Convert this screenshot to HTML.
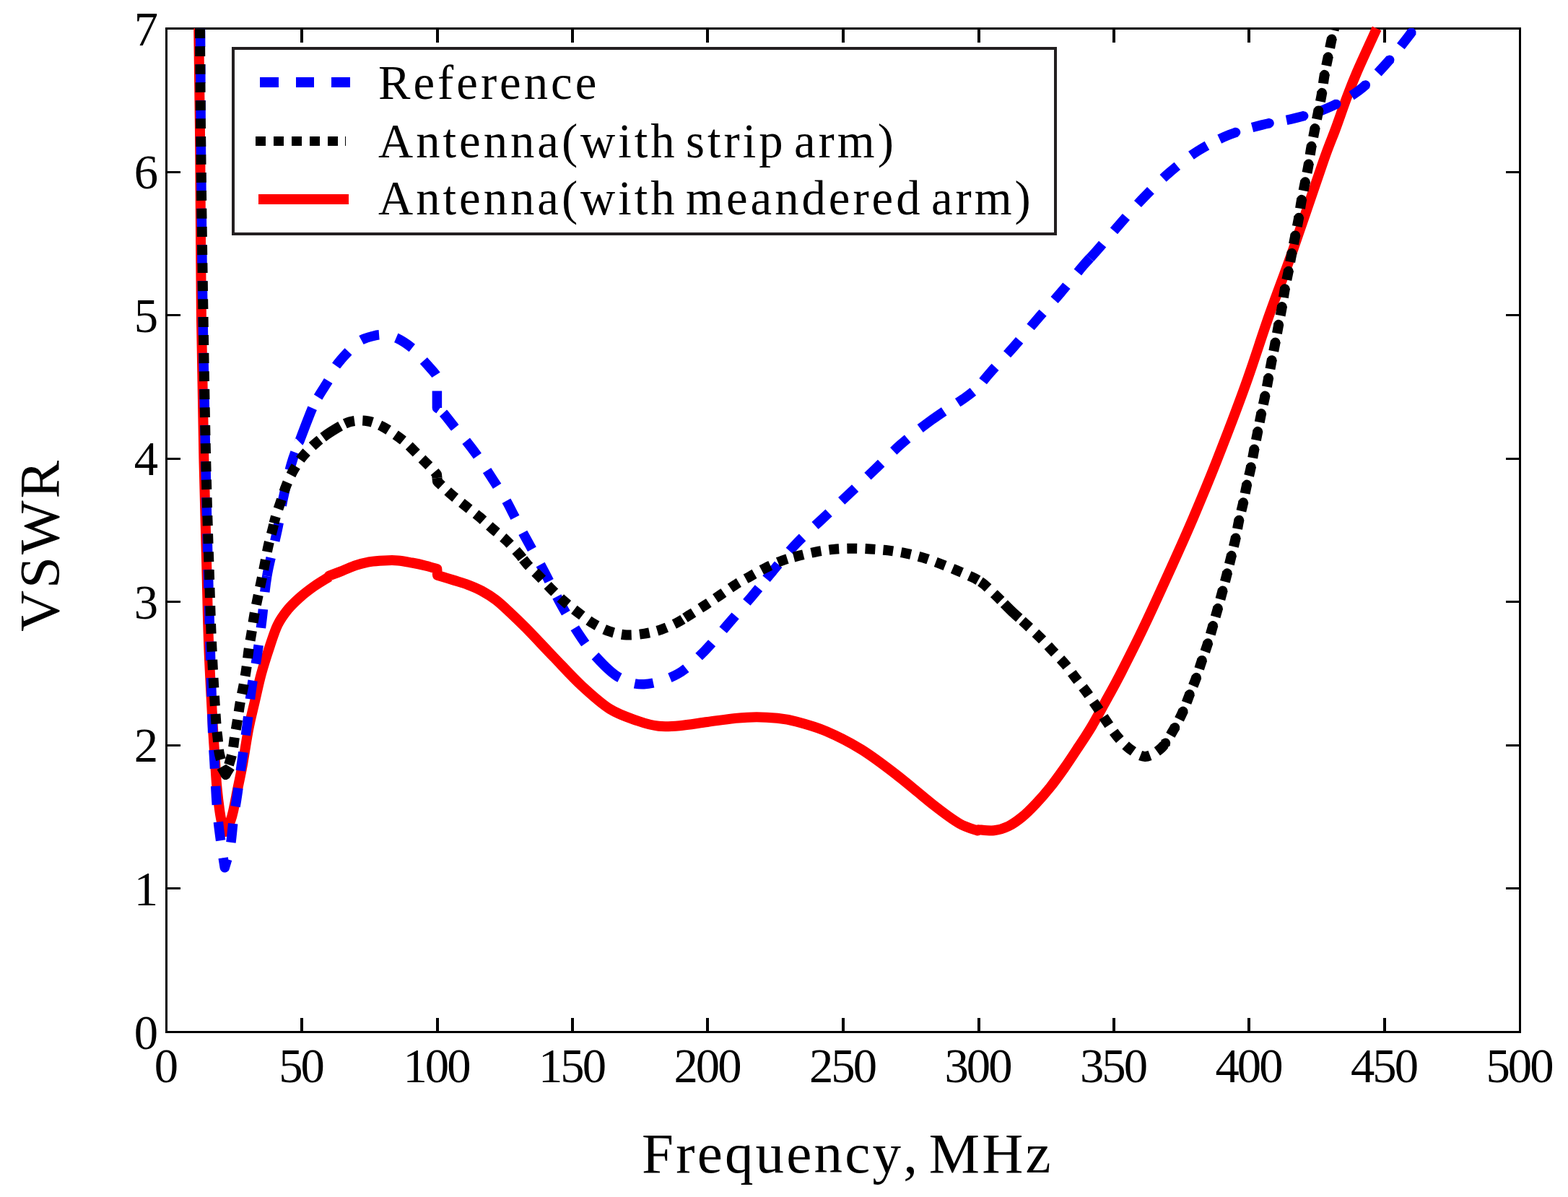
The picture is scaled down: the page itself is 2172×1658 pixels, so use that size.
<!DOCTYPE html>
<html lang="en"><head><meta charset="utf-8"><title>VSWR vs Frequency</title>
<style>
html,body{margin:0;padding:0;background:#fff;}
body{width:2172px;height:1658px;overflow:hidden;}
svg{display:block;}
text{font-family:"Liberation Serif","Times New Roman",Times,serif;fill:#000;font-kerning:none;font-variant-ligatures:none;white-space:pre;}
.tick{font-size:66.7px;}
.leg{font-size:66.7px;}
.lab{font-size:79px;}
</style></head><body>
<svg xmlns="http://www.w3.org/2000/svg" width="2172" height="1658" viewBox="0 0 2172 1658">
<rect x="0" y="0" width="2172" height="1658" fill="#fff"/>
<defs>
<clipPath id="ax"><rect x="231" y="38.9" width="1874" height="1390"/></clipPath>
</defs>
<g fill="#000" shape-rendering="crispEdges">
<rect x="229" y="38" width="1878" height="3"/>
<rect x="229" y="1428" width="1878" height="3"/>
<rect x="229" y="38" width="3" height="1393"/>
<rect x="2104" y="38" width="3" height="1393"/>
<rect x="416" y="1410" width="4" height="19"/>
<rect x="416" y="40" width="4" height="19"/>
<rect x="604" y="1410" width="4" height="19"/>
<rect x="604" y="40" width="4" height="19"/>
<rect x="791" y="1410" width="4" height="19"/>
<rect x="791" y="40" width="4" height="19"/>
<rect x="978" y="1410" width="4" height="19"/>
<rect x="978" y="40" width="4" height="19"/>
<rect x="1166" y="1410" width="4" height="19"/>
<rect x="1166" y="40" width="4" height="19"/>
<rect x="1354" y="1410" width="4" height="19"/>
<rect x="1354" y="40" width="4" height="19"/>
<rect x="1541" y="1410" width="4" height="19"/>
<rect x="1541" y="40" width="4" height="19"/>
<rect x="1728" y="1410" width="4" height="19"/>
<rect x="1728" y="40" width="4" height="19"/>
<rect x="1916" y="1410" width="4" height="19"/>
<rect x="1916" y="40" width="4" height="19"/>
<rect x="231" y="1229" width="19" height="3"/>
<rect x="2086" y="1229" width="19" height="3"/>
<rect x="231" y="1031" width="19" height="3"/>
<rect x="2086" y="1031" width="19" height="3"/>
<rect x="231" y="832" width="19" height="3"/>
<rect x="2086" y="832" width="19" height="3"/>
<rect x="231" y="634" width="19" height="3"/>
<rect x="2086" y="634" width="19" height="3"/>
<rect x="231" y="435" width="19" height="3"/>
<rect x="2086" y="435" width="19" height="3"/>
<rect x="231" y="237" width="19" height="3"/>
<rect x="2086" y="237" width="19" height="3"/>
</g>
<g fill="none" stroke-linejoin="round" stroke-linecap="butt">
<path d="M275.2 39.1C275.6 68.4 276.7 148.9 277.3 215.0C277.9 281.1 278.0 365.8 278.9 436.0C279.8 506.2 281.1 577.0 282.4 636.0C283.6 695.0 285.2 746.5 286.4 790.0C287.5 833.5 287.9 862.0 289.3 897.0C290.7 932.0 293.1 974.2 294.5 1000.0C295.9 1025.8 296.8 1036.6 297.8 1051.6C298.8 1066.6 299.3 1078.4 300.4 1090.2C301.5 1102.0 303.0 1114.1 304.2 1122.5C305.4 1130.9 306.2 1135.6 307.5 1140.5C308.8 1145.4 311.3 1150.1 312.1 1152.0C313.3 1149.5 317.5 1141.6 319.4 1136.7C321.3 1131.8 321.6 1130.2 323.3 1122.5C325.0 1114.8 327.6 1100.6 329.7 1090.2C331.8 1079.8 333.4 1073.3 335.8 1060.1C338.2 1046.8 341.3 1025.4 344.1 1010.7C346.9 996.0 349.8 985.0 352.8 972.1C355.8 959.2 358.4 946.3 361.9 933.4C365.4 920.5 370.1 906.0 373.9 894.7C377.7 883.4 380.4 874.1 384.5 865.7C388.6 857.3 393.4 850.9 398.6 844.4C403.9 837.9 409.9 832.4 416.0 827.0C422.1 821.6 428.9 816.5 435.4 811.9C441.9 807.3 451.7 801.6 455.0 799.5L456.0 797.5C459.0 796.4 467.8 793.1 474.0 790.7C480.2 788.3 486.9 785.0 493.4 782.9C499.8 780.8 506.3 779.2 512.7 778.1C519.2 777.0 525.7 776.7 532.1 776.4C538.5 776.1 545.0 775.9 551.4 776.4C557.8 776.9 564.2 778.3 570.7 779.5C577.2 780.7 584.3 782.3 590.1 783.7C595.9 785.1 602.8 787.3 605.3 788.0L606.0 796.7C609.8 797.9 621.8 801.6 628.8 803.8C635.8 806.0 641.7 807.5 648.1 810.0C654.5 812.5 661.0 815.0 667.4 818.5C673.8 822.0 680.3 826.0 686.8 830.9C693.2 835.8 699.1 841.5 706.1 848.0C713.1 854.5 718.5 859.5 728.7 869.9C738.9 880.3 754.5 897.1 767.4 910.5C780.3 923.9 793.1 938.2 806.0 950.1C818.9 962.0 831.8 973.9 844.7 982.0C857.6 990.1 872.1 994.5 883.4 998.5C894.7 1002.5 902.7 1004.7 912.4 1005.8C922.1 1006.9 930.1 1006.2 941.4 1005.2C952.7 1004.2 967.2 1001.7 980.1 1000.0C993.0 998.3 1007.5 996.0 1018.8 994.9C1030.1 993.8 1038.4 993.2 1048.1 993.2C1057.8 993.2 1067.6 993.8 1076.8 994.8C1086.0 995.8 1091.6 996.5 1103.0 999.5C1114.4 1002.5 1129.9 1006.6 1145.0 1013.1C1160.1 1019.6 1177.3 1028.3 1193.4 1038.3C1209.5 1048.3 1224.8 1060.1 1241.7 1073.1C1258.6 1086.1 1280.5 1105.2 1295.0 1116.5C1309.5 1127.8 1319.2 1135.0 1329.0 1140.7C1338.8 1146.4 1349.8 1148.9 1354.0 1150.5L1355.0 1149.2C1358.7 1149.4 1370.2 1151.1 1377.2 1150.3C1384.2 1149.5 1390.2 1147.6 1396.7 1144.5C1403.2 1141.4 1409.5 1136.8 1416.0 1131.5C1422.5 1126.2 1429.0 1119.5 1435.4 1112.7C1441.9 1105.9 1448.3 1098.5 1454.7 1090.5C1461.1 1082.5 1467.5 1073.6 1474.0 1064.4C1480.5 1055.2 1487.0 1045.2 1493.4 1035.4C1499.9 1025.6 1505.9 1017.0 1512.7 1005.4C1519.5 993.8 1528.0 977.8 1534.5 966.0C1541.0 954.2 1543.4 950.4 1551.4 934.8C1559.4 919.1 1571.5 895.5 1582.7 872.1C1593.9 848.8 1606.8 820.5 1618.5 794.7C1630.2 768.9 1641.8 743.2 1652.8 717.4C1663.8 691.6 1672.6 670.7 1684.7 640.0C1696.8 609.3 1713.0 567.3 1725.2 533.4C1737.4 499.5 1747.0 468.1 1758.1 436.7C1769.1 405.3 1779.0 380.6 1791.5 345.0C1804.0 309.4 1823.4 250.9 1833.1 223.4C1842.8 195.9 1844.0 194.9 1849.5 180.0C1855.0 165.1 1860.9 147.5 1866.0 134.0C1871.1 120.5 1873.2 114.8 1880.0 99.0C1886.8 83.2 1902.6 49.3 1907.1 39.4" stroke="#ff0000" stroke-width="14"/>
</g>
<g fill="none" stroke="#0000ff" stroke-width="13.5" stroke-linejoin="round" clip-path="url(#ax)">
<path d="M277.5 39.0C277.7 68.3 277.9 148.8 278.5 215.0C279.1 281.2 279.9 365.8 281.0 436.0C282.1 506.2 283.6 577.0 284.8 636.0C286.0 695.0 287.2 746.0 288.3 790.0C289.4 834.0 290.3 863.4 291.3 900.0C292.3 936.6 293.6 983.9 294.5 1009.7C295.4 1035.5 296.1 1039.0 297.0 1054.8C297.9 1070.6 298.7 1090.8 299.6 1104.4C300.5 1118.1 301.1 1126.2 302.2 1136.7C303.3 1147.2 304.6 1156.8 306.1 1167.6C307.6 1178.4 310.4 1196.1 311.3 1201.8C312.6 1197.0 317.0 1184.0 319.0 1172.7C321.0 1161.4 321.9 1146.0 323.5 1134.1C325.1 1122.2 326.6 1115.0 328.6 1101.2C330.6 1087.4 333.3 1067.0 335.6 1051.0C337.9 1035.0 340.1 1020.9 342.2 1004.9C344.3 988.9 346.0 970.8 348.3 954.7C350.6 938.6 353.7 924.3 356.1 908.2C358.5 892.1 360.6 876.4 362.9 858.0C365.2 839.6 366.3 818.5 369.8 798.0" stroke-dasharray="26 24" stroke-dashoffset="0.0"/>
<path d="M369.8 798.0C373.3 777.5 380.3 752.8 384.0 735.0C387.7 717.2 388.8 706.9 392.0 691.5C395.2 676.1 399.7 656.2 403.5 642.9C407.2 629.7 409.7 624.8 414.5 612.0" stroke-dasharray="26 24" stroke-dashoffset="0.0"/>
<path d="M414.5 612.0C414.6 611.9 414.6 611.9 414.6 611.8C419.5 598.8 428.1 575.8 432.7 565.2"/>
<path d="M432.7 565.2C437.2 554.6 437.9 554.7 441.9 548.0C445.8 541.3 452.5 531.6 456.4 524.8C460.3 518.0 460.9 513.5 465.1 507.4C469.3 501.3 476.0 493.8 481.5 488.0C487.0 482.2 492.4 476.2 498.0 472.5C503.6 468.8 510.1 467.2 515.4 465.8C520.7 464.4 524.1 463.3 529.9 463.8C535.7 464.3 543.0 465.3 550.2 468.7C557.5 472.1 567.3 479.0 573.4 484.1C579.5 489.2 582.0 494.0 586.9 499.6C591.8 505.2 599.9 513.9 603.0 518.0C606.1 522.1 605.0 523.0 605.4 524.0L605.4 527.1" stroke-dasharray="26 24" stroke-dashoffset="32.7"/>
<path d="M605.4 527.1L605.4 565.0C606.5 565.9 608.7 567.1 611.6 569.7" stroke-dasharray="27 24" stroke-dashoffset="36.5"/>
<path d="M611.6 569.7C612.4 570.4 613.2 571.2 614.0 572.1C618.0 576.5 624.4 585.2 629.5 591.5C634.6 597.8 639.8 603.3 644.9 609.8C650.0 616.2 655.6 623.4 660.4 630.2C665.2 637.0 669.4 643.6 673.9 650.5C678.4 657.4 683.0 664.6 687.5 671.7C692.0 678.8 696.8 685.8 701.0 693.0C705.2 700.2 708.3 706.9 712.6 715.2C716.9 723.5 720.1 730.1 727.0 742.8C733.9 755.5 745.5 775.9 753.8 791.6C762.1 807.3 768.9 822.4 777.0 837.0C785.1 851.6 794.5 867.4 802.6 879.5C810.4 891.2 816.0 899.2 824.5 908.5" stroke-dasharray="26 24" stroke-dashoffset="46.6"/>
<path d="M824.5 908.5C824.8 908.8 825.1 909.2 825.4 909.5C834.3 919.2 845.2 931.2 856.3 937.6C857.0 938.0 857.7 938.4 858.5 938.8"/>
<path d="M858.5 938.8C868.9 944.5 879.3 948.4 892.1 947.8C905.8 947.1 924.5 941.4 938.5 933.7C952.5 926.0 964.6 912.9 976.2 901.4C987.8 889.9 997.4 877.4 1008.1 865.0C1018.8 852.6 1030.1 839.5 1040.4 827.3C1045.5 821.2 1050.3 815.5 1055.0 809.7" stroke-dasharray="26 24" stroke-dashoffset="27.7"/>
<path d="M1055.0 809.7C1059.9 803.8 1064.8 797.8 1070.0 791.6C1080.4 779.3 1091.3 765.3 1102.7 753.3C1114.1 741.3 1126.2 730.9 1138.3 719.5C1150.4 708.1 1163.0 696.5 1175.1 685.1C1187.2 673.7 1198.8 662.8 1210.9 651.2C1223.1 639.6 1234.7 627.0 1248.0 615.4C1256.5 608.0 1265.5 600.7 1274.7 593.5" stroke-dasharray="26 24" stroke-dashoffset="39.6"/>
<path d="M1274.7 593.5C1280.1 589.4 1285.5 585.4 1290.9 581.4C1296.0 577.7 1301.9 573.7 1307.7 569.8"/>
<path d="M1307.7 569.8C1318.9 562.5 1330.2 555.4 1337.3 550.4C1348.1 542.8 1352.5 538.4 1355.5 536.0" stroke-dasharray="26 24" stroke-dashoffset="27.6"/>
<path d="M1355.5 536.0C1358.1 532.8 1363.1 525.8 1371.2 516.6C1379.3 507.4 1393.2 493.1 1404.0 480.8C1414.8 468.6 1425.2 455.6 1436.0 443.1C1446.8 430.6 1458.0 418.6 1468.8 406.0C1479.6 393.4 1492.3 377.5 1500.7 367.7C1504.9 362.8 1507.4 360.1 1509.9 357.5" stroke-dasharray="26 24" stroke-dashoffset="40.0"/>
<path d="M1509.9 357.5C1512.4 354.8 1514.9 352.2 1519.1 347.4C1527.5 337.9 1540.2 322.9 1551.0 310.6C1561.8 298.3 1572.7 285.6 1584.2 273.7C1595.7 261.8 1607.4 249.7 1620.0 238.9C1632.6 228.1 1645.8 217.6 1659.6 208.9C1666.2 204.8 1673.0 200.9 1679.9 197.3" stroke-dasharray="26 24" stroke-dashoffset="0.0"/>
<path d="M1679.9 197.3C1687.6 193.3 1695.4 189.7 1703.1 186.6C1717.8 180.6 1732.3 177.0 1747.6 173.1C1762.9 169.2 1779.8 167.3 1795.0 163.4C1810.2 159.5 1824.0 156.2 1838.5 149.9C1853.0 143.6 1868.6 135.7 1882.0 125.7C1895.4 115.7 1907.4 102.2 1918.7 89.9C1930.0 77.7 1943.1 60.6 1949.7 52.2C1956.3 43.8 1954.2 45.7 1958.4 39.5C1962.6 33.3 1972.2 19.1 1975.0 15.0" stroke-dasharray="26 22.4" stroke-dashoffset="38.1"/>
</g>
<g fill="none" stroke="#0000ff" stroke-width="12.9" stroke-linecap="round" clip-path="url(#ax)">
<path d="M1679.9 197.3C1687.6 193.3 1695.4 189.7 1703.1 186.6C1717.8 180.6 1732.3 177.0 1747.6 173.1C1762.9 169.2 1779.8 167.3 1795.0 163.4C1810.2 159.5 1824.0 156.2 1838.5 149.9C1853.0 143.6 1868.6 135.7 1882.0 125.7C1895.4 115.7 1907.4 102.2 1918.7 89.9C1930.0 77.7 1943.1 60.6 1949.7 52.2C1956.3 43.8 1954.2 45.7 1958.4 39.5C1962.6 33.3 1972.2 19.1 1975.0 15.0" stroke-dasharray="0.01 48.39" stroke-dashoffset="13.6"/>
</g>
<g fill="none" stroke="#000000" stroke-width="14" stroke-linejoin="round" clip-path="url(#ax)">
<path d="M277.0 39.2C277.2 68.5 277.6 148.9 278.4 215.0C279.1 281.1 280.4 365.8 281.5 436.0C282.6 506.2 283.8 577.0 285.2 636.0C286.6 695.0 288.3 746.5 289.7 790.0C291.1 833.5 291.8 862.7 293.4 897.0C294.9 931.3 297.6 975.2 299.0 996.0C300.4 1016.8 300.6 1013.7 301.5 1021.9C302.4 1030.1 302.2 1036.6 304.1 1045.1C306.0 1053.6 311.2 1068.3 312.6 1073.0C314.1 1068.2 319.3 1053.3 321.4 1044.5C323.5 1035.7 323.8 1028.3 325.1 1020.4C326.4 1012.5 327.7 1005.2 329.0 997.2C330.3 989.2 331.4 980.3 332.9 972.1C334.3 963.9 336.2 956.0 337.7 947.9C339.1 939.8 340.5 931.6 341.6 923.7C342.7 915.8 343.4 908.2 344.5 900.5C345.6 892.8 347.0 885.3 348.3 877.3C349.6 869.2 350.8 860.4 352.2 852.2C353.6 844.0 355.4 835.9 357.0 828.0C358.6 820.1 360.3 812.5 361.9 804.8C363.5 797.1 365.1 789.7 366.7 781.6C368.3 773.5 369.8 764.4 371.6 756.4C373.4 748.4 375.8 740.3 377.5 733.5C378.4 730.1 379.0 727.3 379.6 724.6" stroke-dasharray="13.8 11.2" stroke-dashoffset="0.0"/>
<path d="M379.6 724.6C380.3 721.8 380.9 719.1 381.9 715.8C383.8 709.3 386.6 701.7 389.1 694.3C391.6 686.9 393.9 679.0 396.9 671.6C399.9 664.2 403.4 656.8 407.3 650.1C411.2 643.4 415.0 637.4 420.1 631.3C425.2 625.2 431.2 619.2 437.7 613.6C440.8 610.9 444.1 608.2 447.6 605.6" stroke-dasharray="13.8 11.2" stroke-dashoffset="4.4"/>
<path d="M447.6 605.6C451.3 602.8 455.2 600.0 459.3 597.5C463.1 595.1 467.3 592.5 471.6 590.1"/>
<path d="M471.6 590.1C476.0 587.7 480.5 585.5 484.7 584.3C493.0 581.9 501.4 582.1 509.0 583.2C516.5 584.3 523.1 587.5 530.0 591.0C536.9 594.5 544.6 600.0 550.2 604.0C555.8 608.0 558.6 610.0 563.7 614.7C568.9 619.4 575.5 626.5 581.1 632.1C586.8 637.7 593.6 644.4 597.6 648.5C601.6 652.6 603.8 655.6 605.0 657.0L605.5 662.0" stroke-dasharray="13.8 11.2" stroke-dashoffset="18.0"/>
<path d="M605.5 662.0L606.0 667.0C609.3 670.0 619.1 679.7 625.6 685.3C632.1 690.9 638.5 695.6 644.9 700.7C651.3 705.9 658.0 710.9 664.3 716.2C670.6 721.5 676.5 727.3 682.6 732.6C688.7 737.9 694.7 742.2 700.8 748.0C706.9 753.8 714.0 761.8 719.0 767.4C721.4 770.2 723.1 772.4 724.7 774.6" stroke-dasharray="13.8 11.2" stroke-dashoffset="0.5"/>
<path d="M724.7 774.6C726.5 776.9 728.1 779.2 730.6 781.9C735.4 787.2 742.2 793.3 748.0 799.3C753.8 805.3 759.6 811.9 765.4 817.7C771.2 823.5 776.7 828.8 782.8 834.1C788.9 839.4 795.6 844.6 802.2 849.6C808.8 854.6 815.4 859.9 822.5 864.1C829.6 868.3 837.1 872.1 844.7 874.7C852.3 877.3 859.8 879.0 867.9 879.5C876.0 880.0 885.0 878.9 893.1 877.6C901.2 876.3 908.7 874.4 916.3 871.8C923.9 869.2 931.9 865.5 938.5 862.1C941.8 860.4 944.6 858.7 947.3 857.0" stroke-dasharray="13.8 11.2" stroke-dashoffset="0.5"/>
<path d="M947.3 857.0C950.0 855.3 952.7 853.5 955.9 851.5C962.4 847.5 970.3 842.5 977.2 838.0C984.1 833.5 990.6 829.1 997.5 824.4C1004.4 819.7 1011.9 814.2 1018.8 809.9C1025.7 805.5 1032.2 802.2 1039.1 798.3C1046.0 794.4 1052.9 790.3 1060.3 786.7C1067.7 783.1 1075.8 779.3 1083.5 776.5C1087.4 775.1 1091.2 773.9 1095.1 772.8" stroke-dasharray="13.8 11.2" stroke-dashoffset="22.9"/>
<path d="M1095.1 772.8C1098.8 771.8 1102.6 770.8 1106.5 769.8C1114.3 767.8 1122.5 765.9 1130.6 764.4C1138.6 762.9 1146.6 761.7 1154.8 760.9C1163.0 760.1 1171.4 759.8 1179.9 759.7C1188.4 759.6 1197.6 760.0 1206.0 760.5C1214.4 761.0 1222.1 761.4 1230.2 762.4C1238.3 763.4 1246.5 764.7 1254.4 766.3C1262.3 767.9 1269.9 769.8 1277.6 772.1C1285.3 774.4 1293.1 777.3 1300.8 780.2C1308.5 783.1 1316.4 786.3 1324.0 789.5C1331.6 792.7 1341.0 796.8 1346.2 799.2C1351.5 801.6 1354.0 803.2 1355.5 804.0" stroke-dasharray="13.8 11.2" stroke-dashoffset="20.4"/>
<path d="M1355.5 804.0C1356.8 805.0 1359.3 806.1 1363.6 809.8C1367.8 813.5 1374.7 820.2 1381.0 826.3C1384.1 829.3 1387.4 832.7 1390.9 836.2" stroke-dasharray="13.8 11.2" stroke-dashoffset="21.9"/>
<path d="M1390.9 836.2C1394.3 839.7 1397.9 843.3 1401.4 846.6C1404.8 849.8 1408.3 853.0 1411.8 856.1"/>
<path d="M1411.8 856.1C1415.5 859.5 1419.2 862.7 1422.6 865.9C1429.2 872.0 1435.1 877.4 1441.0 883.3C1446.9 889.2 1452.5 895.4 1458.2 901.5C1463.9 907.6 1470.0 913.6 1475.2 919.8C1480.5 926.0 1484.7 932.2 1489.7 938.7C1494.7 945.2 1500.0 951.7 1505.0 958.5C1510.0 965.3 1514.8 972.4 1519.5 979.3C1524.2 986.1 1528.3 992.8 1533.0 999.6C1537.7 1006.4 1542.2 1013.6 1547.5 1019.9C1552.8 1026.2 1558.5 1032.6 1564.9 1037.3C1571.4 1042.0 1578.9 1048.1 1586.2 1047.9C1593.5 1047.7 1602.0 1042.2 1608.5 1036.3C1610.5 1034.5 1612.3 1032.3 1614.0 1029.9" stroke-dasharray="13.8 11.2" stroke-dashoffset="19.5"/>
<path d="M1614.0 1029.9C1618.0 1024.5 1621.4 1018.0 1624.9 1012.2C1629.9 1003.8 1634.5 994.8 1638.4 986.1C1642.4 977.4 1645.5 967.8 1648.6 960.0C1651.7 952.2 1654.1 947.0 1656.8 939.6C1659.5 932.2 1662.0 923.4 1664.7 915.5C1667.4 907.6 1670.2 900.3 1672.7 892.4C1675.2 884.5 1677.5 876.3 1679.8 868.2C1682.1 860.1 1684.3 852.2 1686.6 844.0C1688.9 835.8 1691.2 827.1 1693.4 818.9C1695.6 810.7 1697.7 802.8 1699.7 794.7C1701.7 786.6 1703.6 778.5 1705.6 770.5C1707.5 762.5 1709.6 754.6 1711.4 746.4C1713.2 738.2 1714.4 729.4 1716.2 721.2C1718.0 713.0 1720.2 705.0 1722.0 697.0C1723.8 689.0 1725.0 681.0 1726.8 672.9C1728.5 664.8 1730.8 656.9 1732.5 648.6C1734.2 640.3 1735.6 631.5 1737.2 623.3C1738.8 615.0 1740.4 607.3 1742.0 599.1C1743.6 590.9 1745.2 582.2 1746.9 574.0C1748.6 565.8 1750.4 558.0 1752.1 549.8C1753.8 541.6 1755.4 532.9 1756.9 524.7C1758.5 516.5 1759.9 508.6 1761.4 500.5C1763.0 492.4 1764.7 484.4 1766.2 476.3C1767.8 468.2 1769.2 460.4 1770.7 452.2C1772.2 444.0 1774.0 435.6 1775.5 427.0C1777.0 418.4 1778.2 409.3 1779.7 400.9C1781.2 392.5 1782.9 385.2 1784.6 376.7C1786.2 368.2 1788.0 358.1 1789.6 350.0C1791.2 341.9 1792.5 335.5 1794.0 327.8C1795.5 320.1 1797.3 311.8 1798.8 303.6C1800.2 295.4 1801.2 286.7 1802.7 278.5C1804.2 270.3 1805.9 262.5 1807.5 254.3C1809.1 246.1 1811.0 237.4 1812.4 229.2C1813.9 221.0 1814.8 213.2 1816.2 205.0C1817.7 196.8 1819.5 188.1 1821.1 179.9C1822.7 171.7 1824.3 163.8 1825.9 155.7C1827.5 147.6 1829.2 140.0 1830.7 131.5C1832.2 123.0 1833.1 113.0 1834.6 104.5C1836.0 96.0 1837.8 88.4 1839.4 80.3C1841.0 72.2 1842.8 62.9 1844.3 56.1C1845.8 49.3 1846.6 46.4 1848.1 39.5C1849.5 32.6 1852.2 19.1 1853.0 15.0" stroke-dasharray="13.8 11.33" stroke-dashoffset="11.5"/>
</g>
<g fill="none" stroke="#000000" stroke-width="13.4" stroke-linecap="round" clip-path="url(#ax)">
<path d="M1614.0 1029.9C1618.0 1024.5 1621.4 1018.0 1624.9 1012.2C1629.9 1003.8 1634.5 994.8 1638.4 986.1C1642.4 977.4 1645.5 967.8 1648.6 960.0C1651.7 952.2 1654.1 947.0 1656.8 939.6C1659.5 932.2 1662.0 923.4 1664.7 915.5C1667.4 907.6 1670.2 900.3 1672.7 892.4C1675.2 884.5 1677.5 876.3 1679.8 868.2C1682.1 860.1 1684.3 852.2 1686.6 844.0C1688.9 835.8 1691.2 827.1 1693.4 818.9C1695.6 810.7 1697.7 802.8 1699.7 794.7C1701.7 786.6 1703.6 778.5 1705.6 770.5C1707.5 762.5 1709.6 754.6 1711.4 746.4C1713.2 738.2 1714.4 729.4 1716.2 721.2C1718.0 713.0 1720.2 705.0 1722.0 697.0C1723.8 689.0 1725.0 681.0 1726.8 672.9C1728.5 664.8 1730.8 656.9 1732.5 648.6C1734.2 640.3 1735.6 631.5 1737.2 623.3C1738.8 615.0 1740.4 607.3 1742.0 599.1C1743.6 590.9 1745.2 582.2 1746.9 574.0C1748.6 565.8 1750.4 558.0 1752.1 549.8C1753.8 541.6 1755.4 532.9 1756.9 524.7C1758.5 516.5 1759.9 508.6 1761.4 500.5C1763.0 492.4 1764.7 484.4 1766.2 476.3C1767.8 468.2 1769.2 460.4 1770.7 452.2C1772.2 444.0 1774.0 435.6 1775.5 427.0C1777.0 418.4 1778.2 409.3 1779.7 400.9C1781.2 392.5 1782.9 385.2 1784.6 376.7C1786.2 368.2 1788.0 358.1 1789.6 350.0C1791.2 341.9 1792.5 335.5 1794.0 327.8C1795.5 320.1 1797.3 311.8 1798.8 303.6C1800.2 295.4 1801.2 286.7 1802.7 278.5C1804.2 270.3 1805.9 262.5 1807.5 254.3C1809.1 246.1 1811.0 237.4 1812.4 229.2C1813.9 221.0 1814.8 213.2 1816.2 205.0C1817.7 196.8 1819.5 188.1 1821.1 179.9C1822.7 171.7 1824.3 163.8 1825.9 155.7C1827.5 147.6 1829.2 140.0 1830.7 131.5C1832.2 123.0 1833.1 113.0 1834.6 104.5C1836.0 96.0 1837.8 88.4 1839.4 80.3C1841.0 72.2 1842.8 62.9 1844.3 56.1C1845.8 49.3 1846.6 46.4 1848.1 39.5C1849.5 32.6 1852.2 19.1 1853.0 15.0" stroke-dasharray="0.01 25.12" stroke-dashoffset="24.3"/>
</g>
<path d="M306.6 1062.5L312.6 1072.5L318.8 1062.5" fill="none" stroke="#000" stroke-width="14" stroke-linejoin="bevel"/>
<g class="tick">
<text x="229.0" y="1499" text-anchor="middle" letter-spacing="-3">0</text>
<text x="416.5" y="1499" text-anchor="middle" letter-spacing="-3">50</text>
<text x="604.0" y="1499" text-anchor="middle" letter-spacing="-3">100</text>
<text x="791.5" y="1499" text-anchor="middle" letter-spacing="-3">150</text>
<text x="979.0" y="1499" text-anchor="middle" letter-spacing="-3">200</text>
<text x="1166.5" y="1499" text-anchor="middle" letter-spacing="-3">250</text>
<text x="1354.0" y="1499" text-anchor="middle" letter-spacing="-3">300</text>
<text x="1541.5" y="1499" text-anchor="middle" letter-spacing="-3">350</text>
<text x="1729.0" y="1499" text-anchor="middle" letter-spacing="-3">400</text>
<text x="1916.5" y="1499" text-anchor="middle" letter-spacing="-3">450</text>
<text x="2104.0" y="1499" text-anchor="middle" letter-spacing="-3">500</text>
<text x="219" y="1452.5" text-anchor="end">0</text>
<text x="219" y="1253.9" text-anchor="end">1</text>
<text x="219" y="1055.4" text-anchor="end">2</text>
<text x="219" y="856.8" text-anchor="end">3</text>
<text x="219" y="658.2" text-anchor="end">4</text>
<text x="219" y="459.6" text-anchor="end">5</text>
<text x="219" y="261.1" text-anchor="end">6</text>
<text x="219" y="62.5" text-anchor="end">7</text>
</g>
<text class="lab" x="889" y="1624" letter-spacing="3.2" word-spacing="-10.4">Frequency, MHz</text>
<text class="lab" transform="translate(80.8 875) rotate(-90)" letter-spacing="3">VSWR</text>
<rect x="323" y="67" width="1139" height="257" fill="#fff" stroke="#231f20" stroke-width="4" shape-rendering="crispEdges"/>
<g shape-rendering="crispEdges">
<rect x="360" y="107" width="26" height="14" fill="#0000ff"/>
<rect x="410" y="107" width="25" height="14" fill="#0000ff"/>
<rect x="459" y="107" width="26" height="14" fill="#0000ff"/>
<rect x="354.0" y="189" width="14" height="13" fill="#000"/>
<rect x="378.9" y="189" width="14" height="13" fill="#000"/>
<rect x="403.8" y="189" width="14" height="13" fill="#000"/>
<rect x="428.7" y="189" width="14" height="13" fill="#000"/>
<rect x="453.6" y="189" width="14" height="13" fill="#000"/>
<rect x="478" y="189" width="1" height="13" fill="#000"/>
<rect x="358" y="269" width="125" height="14" fill="#ff0000"/>
</g>
<g class="leg">
<text x="524" y="137" letter-spacing="4" word-spacing="-9.3">Reference</text>
<text x="524" y="218" letter-spacing="4" word-spacing="-9.3">Antenna(with strip arm)</text>
<text x="524" y="297" letter-spacing="4" word-spacing="-9.3">Antenna(with meandered arm)</text>
</g>
</svg>
</body></html>
